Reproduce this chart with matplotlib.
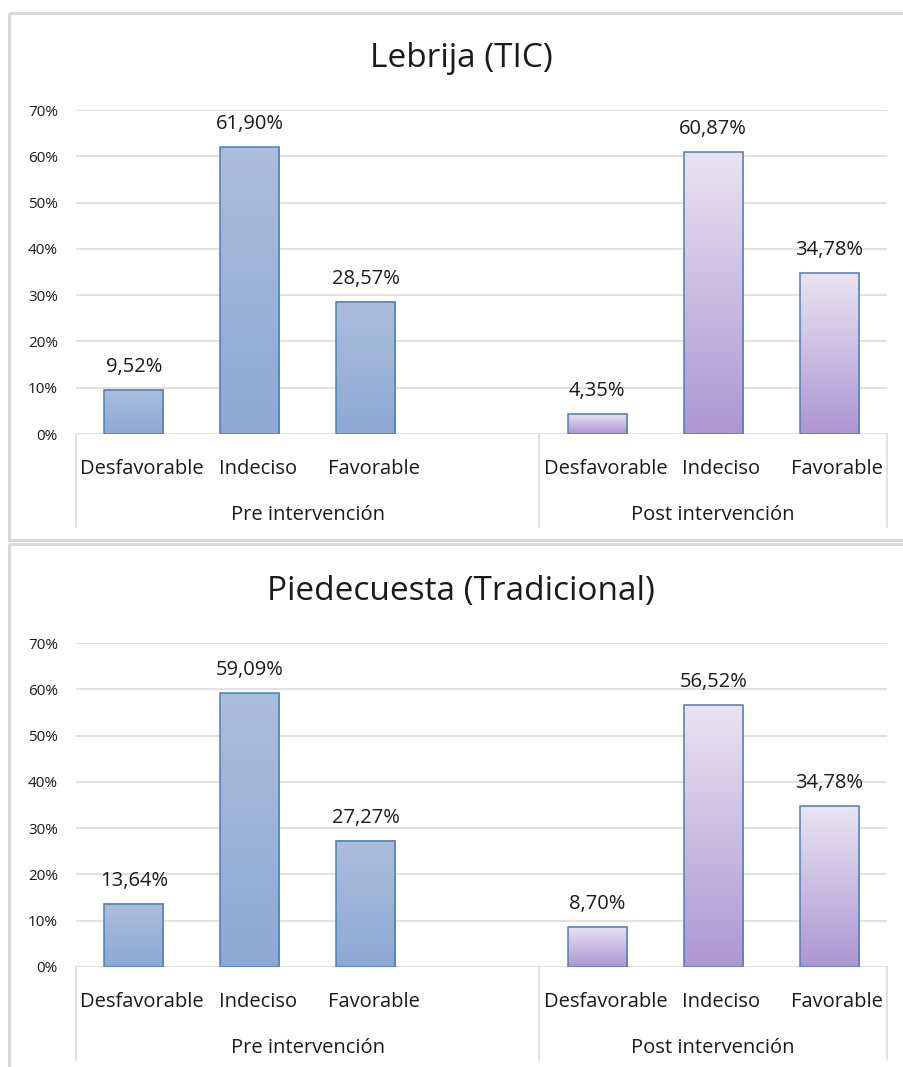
import numpy as np
import matplotlib.pyplot as plt
from matplotlib.colors import LinearSegmentedColormap
from matplotlib.patches import Rectangle
import matplotlib.transforms as mtransforms

plt.rcParams['font.family'] = ['Open Sans', 'DejaVu Sans']

# Attitude results per school, in percent
categories = ['Desfavorable', 'Indeciso', 'Favorable']
groups = ['Pre intervención', 'Post intervención']
titles = ['Lebrija (TIC)', 'Piedecuesta (Tradicional)']
lebrija_pre = [9.52, 61.90, 28.57]
lebrija_post = [4.35, 60.87, 34.78]
piedecuesta_pre = [13.64, 59.09, 27.27]
piedecuesta_post = [8.70, 56.52, 34.78]
y_ticks = [0, 10, 20, 30, 40, 50, 60, 70]

pre_colors = ('#8da8d5', '#abbedb')    # bottom, top
post_colors = ('#ad95d2', '#e9e4f2')
edge = '#4a7ebb'
grid_c = '#d9d9d9'
text_c = '#1a1a1a'

W, H = 904, 1067
fig = plt.figure(figsize=(W / 100, H / 100), dpi=100)


def px_rect(x0, y0, x1, y1):
    return [x0 / W, 1 - y1 / H, (x1 - x0) / W, (y1 - y0) / H]


# chart frames
frame = fig.add_axes([0, 0, 1, 1], zorder=-1)
frame.set_xlim(0, W)
frame.set_ylim(H, 0)
frame.axis('off')
frame.add_patch(Rectangle((9.5, 13), 1000, 526.5, fill=False, ec=grid_c, lw=2.2))
frame.add_patch(Rectangle((9.5, 543.5), 1000, 600, fill=False, ec=grid_c, lw=2.2))


def gradient_bars(ax, xs, vals, colors):
    bars = ax.bar(xs, vals, width=0.51, facecolor='none', edgecolor=edge,
                  linewidth=1.1, zorder=3)
    cmap = LinearSegmentedColormap.from_list('g', list(colors))
    grad = np.linspace(0, 1, 256).reshape(-1, 1)
    for b in bars:
        x0 = b.get_x()
        ax.imshow(grad, cmap=cmap, origin='lower', aspect='auto',
                  extent=(x0, x0 + b.get_width(), 0, b.get_height()),
                  interpolation='bilinear', zorder=2.5)
    for x, v in zip(xs, vals):
        ax.annotate(f'{v:.2f}%'.replace('.', ','), (x, v), xytext=(0, 13),
                    textcoords='offset points', ha='center', va='baseline',
                    fontsize=14.5, fontstretch='normal', color=text_c)


datasets = [(lebrija_pre, lebrija_post), (piedecuesta_pre, piedecuesta_post)]
pre_x = [0, 1, 2]
post_x = [4, 5, 6]

for i, (title, (pre, post)) in enumerate(zip(titles, datasets)):
    off = 533 * i
    ax = fig.add_axes(px_rect(76, 110 + off, 887, 434 + off))
    gradient_bars(ax, pre_x, pre, pre_colors)
    gradient_bars(ax, post_x, post, post_colors)

    ax.set_xlim(-0.5, 6.5)
    ax.set_ylim(0, 70)
    ax.set_yticks(y_ticks)
    ax.set_yticklabels([f'{t}%' for t in y_ticks], fontsize=11, color=text_c)
    ax.tick_params(axis='y', length=0, pad=13)
    ax.set_xticks([])
    for s in ax.spines.values():
        s.set_visible(False)
    ax.yaxis.grid(True, color=grid_c, linewidth=1.1)
    ax.set_axisbelow(True)

    # two-level category axis
    trans = ax.get_xaxis_transform()
    shift = mtransforms.offset_copy(trans, fig=fig, x=6, y=0, units='points')
    for x in [-0.5, 3.5, 6.5]:
        ax.plot([x, x], [0, -0.287], transform=trans, color=grid_c, lw=1.1,
                clip_on=False)
    for xs in (pre_x, post_x):
        for x, c in zip(xs, categories):
            ax.text(x, -40 / 324, c, transform=shift, ha='center',
                    va='baseline', fontsize=14.5, color=text_c)
    ax.text(1.5, -86 / 324, groups[0], transform=trans, ha='center',
            va='baseline', fontsize=14.5, color=text_c)
    ax.text(5, -86 / 324, groups[1], transform=trans, ha='center',
            va='baseline', fontsize=14.5, color=text_c)

    fig.text(461 / W, 1 - (67 + off) / H, title, ha='center', va='baseline',
             fontsize=24, color=text_c)

fig.savefig('out.png', dpi=100)
